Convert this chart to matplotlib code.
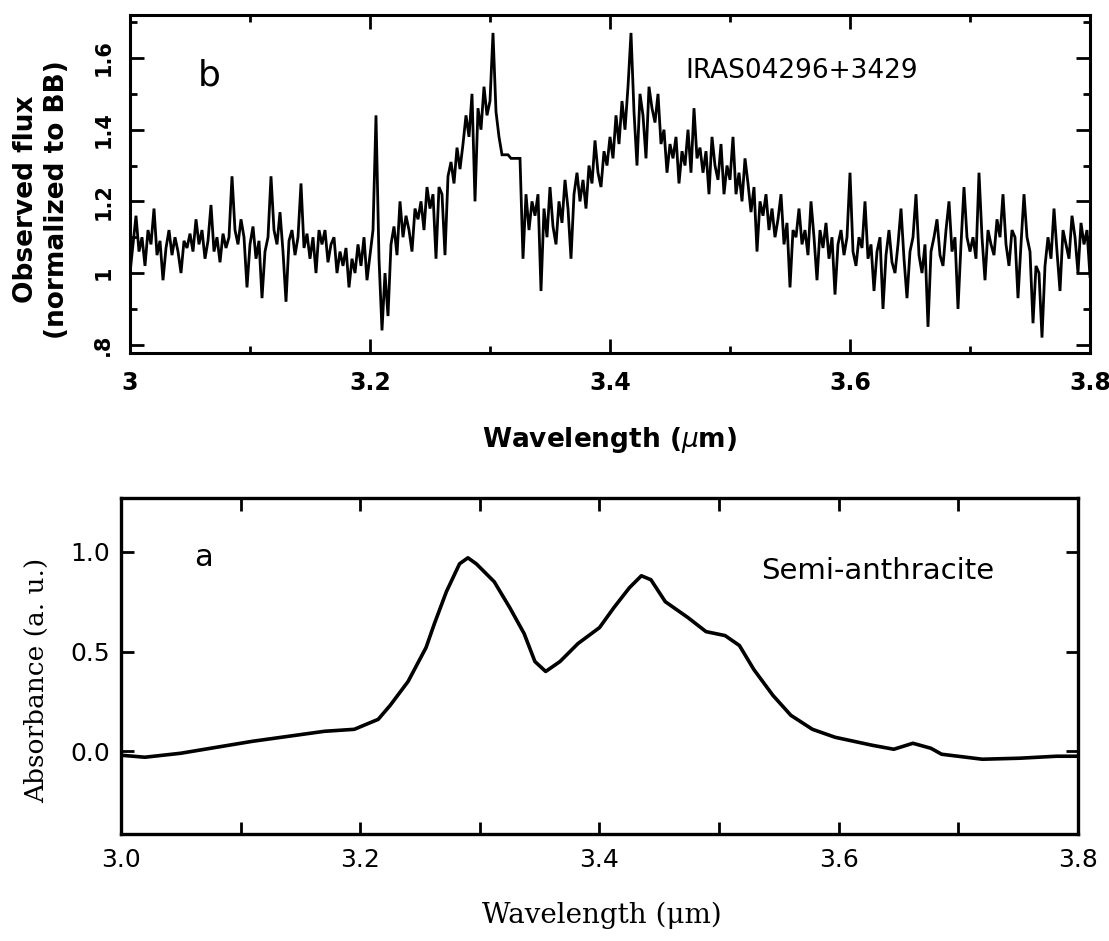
import numpy as np
import matplotlib
matplotlib.use("Agg")
import matplotlib.pyplot as plt
from matplotlib.ticker import MultipleLocator, FixedLocator

# ---------------- data ----------------
# Panel b: observed flux of IRAS04296+3429 (normalized to BB), sampled every 0.0025 um from 3.000
obs_start = 3.000
obs_step = 0.0025
obs_flux = [
    1.00, 1.08, 1.16, 1.06, 1.10, 1.02, 1.12, 1.08,
    1.18, 1.05, 1.09, 0.98, 1.07, 1.12, 1.05, 1.10,
    1.06, 1.00, 1.09, 1.07, 1.11, 1.06, 1.15, 1.08,
    1.12, 1.04, 1.09, 1.19, 1.06, 1.10, 1.03, 1.11,
    1.07, 1.10, 1.27, 1.12, 1.08, 1.15, 1.10, 0.96,
    1.08, 1.13, 1.04, 1.09, 0.93, 1.06, 1.10, 1.27,
    1.12, 1.08, 1.17, 1.06, 0.92, 1.09, 1.12, 1.05,
    1.10, 1.25, 1.07, 1.11, 1.04, 1.10, 1.00, 1.12,
    1.08, 1.12, 1.03, 1.08, 1.10, 1.00, 1.06, 1.02,
    1.07, 0.96, 1.04, 1.00, 1.08, 1.02, 1.10, 0.98,
    1.05, 1.12, 1.44, 1.04, 0.84, 1.00, 0.88, 1.08,
    1.13, 1.05, 1.20, 1.10, 1.16, 1.12, 1.06, 1.18,
    1.15, 1.20, 1.12, 1.24, 1.18, 1.22, 1.04, 1.24,
    1.22, 1.05, 1.27, 1.31, 1.25, 1.35, 1.29, 1.36,
    1.44, 1.38, 1.50, 1.20, 1.46, 1.40, 1.52, 1.44,
    1.48, 1.67, 1.45, 1.38, 1.33, 1.33, 1.33, 1.32,
    1.32, 1.32, 1.32, 1.04, 1.22, 1.12, 1.20, 1.16,
    1.22, 0.95, 1.18, 1.10, 1.24, 1.13, 1.08, 1.20,
    1.14, 1.26, 1.18, 1.04, 1.22, 1.28, 1.20, 1.26,
    1.18, 1.30, 1.25, 1.37, 1.28, 1.24, 1.34, 1.30,
    1.38, 1.32, 1.44, 1.36, 1.48, 1.40, 1.52, 1.67,
    1.45, 1.30, 1.50, 1.44, 1.32, 1.52, 1.46, 1.42,
    1.50, 1.36, 1.40, 1.28, 1.36, 1.32, 1.38, 1.25,
    1.34, 1.30, 1.40, 1.28, 1.46, 1.32, 1.35, 1.28,
    1.34, 1.22, 1.38, 1.30, 1.26, 1.36, 1.22, 1.30,
    1.26, 1.38, 1.22, 1.28, 1.20, 1.32, 1.25, 1.17,
    1.24, 1.06, 1.20, 1.16, 1.22, 1.12, 1.18, 1.10,
    1.15, 1.22, 1.08, 1.14, 0.96, 1.12, 1.10, 1.18,
    1.08, 1.12, 1.05, 1.20, 1.10, 0.98, 1.12, 1.07,
    1.14, 1.04, 1.10, 0.94, 1.08, 1.12, 1.05, 1.10,
    1.28, 1.06, 1.02, 1.10, 1.07, 1.20, 1.04, 1.08,
    0.95, 1.06, 1.10, 0.90, 1.05, 1.12, 1.03, 1.00,
    1.08, 1.18, 1.04, 0.93, 1.06, 1.10, 1.22, 1.05,
    1.00, 1.08, 0.85, 1.06, 1.10, 1.15, 1.05, 1.02,
    1.12, 1.20, 1.06, 1.10, 0.90, 1.08, 1.24, 1.10,
    1.06, 1.10, 1.04, 1.28, 1.10, 0.98, 1.12, 1.08,
    1.05, 1.15, 1.10, 1.22, 1.08, 1.02, 1.12, 1.10,
    0.93, 1.08, 1.22, 1.10, 1.06, 0.86, 1.02, 1.00,
    0.82, 1.02, 1.10, 1.04, 1.18, 1.06, 0.95, 1.12,
    1.08, 1.04, 1.16, 1.10, 1.00, 1.14, 1.08, 1.12,
    0.99,
]
obs_wavelength = [round(obs_start + obs_step * i, 4) for i in range(len(obs_flux))]

# Panel a: semi-anthracite absorbance
abs_wavelength = [3.000, 3.020, 3.050, 3.080, 3.110, 3.140, 3.170, 3.195, 3.215, 3.225,
                  3.240, 3.255, 3.262, 3.272, 3.283, 3.290, 3.297, 3.312, 3.325, 3.337,
                  3.346, 3.355, 3.367, 3.382, 3.400, 3.412, 3.425, 3.435, 3.443, 3.455,
                  3.474, 3.489, 3.505, 3.517, 3.529, 3.545, 3.560, 3.578, 3.597, 3.628,
                  3.646, 3.662, 3.677, 3.686, 3.720, 3.751, 3.782, 3.800]
abs_value = [-0.02, -0.03, -0.01, 0.02, 0.05, 0.075, 0.10, 0.11, 0.16, 0.23,
             0.35, 0.52, 0.64, 0.80, 0.94, 0.97, 0.94, 0.85, 0.72, 0.59,
             0.45, 0.40, 0.45, 0.54, 0.62, 0.72, 0.82, 0.88, 0.86, 0.75,
             0.67, 0.60, 0.58, 0.53, 0.41, 0.28, 0.18, 0.11, 0.07, 0.03,
             0.01, 0.04, 0.015, -0.015, -0.04, -0.035, -0.025, -0.025]

top_xticks = [3.0, 3.2, 3.4, 3.6, 3.8]
top_xticklabels = ["3", "3.2", "3.4", "3.6", "3.8"]
top_yticks = [0.8, 1.0, 1.2, 1.4, 1.6]
top_yticklabels = [".8", "1", "1.2", "1.4", "1.6"]
bot_xticks = [3.0, 3.2, 3.4, 3.6, 3.8]
bot_xticklabels = ["3.0", "3.2", "3.4", "3.6", "3.8"]
bot_yticks = [0.0, 0.5, 1.0]
bot_yticklabels = ["0.0", "0.5", "1.0"]

# ---------------- figure ----------------
W, H = 1109, 941
fig = plt.figure(figsize=(W / 100, H / 100), dpi=100)

def box(l, r, t, b):
    return [l / W, 1 - b / H, (r - l) / W, (b - t) / H]

ax1 = fig.add_axes(box(130, 1090, 15, 353))
ax2 = fig.add_axes(box(121, 1078, 498, 834))

# --- top panel (b) ---
ax1.plot(obs_wavelength, obs_flux, color="black", lw=2.0, solid_joinstyle="miter")
ax1.set_xlim(3.0, 3.8)
ax1.set_ylim(0.777, 1.72)
for s in ax1.spines.values():
    s.set_linewidth(2.2)
ax1.xaxis.set_major_locator(FixedLocator(top_xticks))
ax1.set_xticklabels(top_xticklabels, fontsize=17, fontweight="bold")
ax1.xaxis.set_minor_locator(MultipleLocator(0.1))
ax1.yaxis.set_major_locator(FixedLocator(top_yticks))
ax1.set_yticklabels(top_yticklabels, fontsize=15, fontweight="bold", rotation=90, va="center")
ax1.yaxis.set_minor_locator(MultipleLocator(0.1))
ax1.tick_params(which="major", direction="in", top=True, right=True, length=10, width=2)
ax1.tick_params(which="minor", direction="in", top=True, right=True, length=5, width=2)
ax1.tick_params(axis="x", which="major", pad=13)
ax1.tick_params(axis="y", which="major", pad=12)
ax1.set_xlabel("Wavelength ($\\mu$m)", fontsize=19, fontweight="bold", va="center")
ax1.xaxis.set_label_coords(0.5, -0.257)
ax1.set_ylabel("Observed flux\n(normalized to BB)", fontsize=19, fontweight="bold",
               va="center", ha="center", linespacing=1.25)
ax1.yaxis.set_label_coords(-0.092, 0.455)
ax1.text(0.083, 0.822, "b", transform=ax1.transAxes, fontsize=26,
         ha="center", va="center")
ax1.text(0.700, 0.834, "IRAS04296+3429", transform=ax1.transAxes, fontsize=19,
         ha="center", va="center")

# --- bottom panel (a) ---
ax2.plot(abs_wavelength, abs_value, color="black", lw=2.6)
ax2.set_xlim(3.0, 3.8)
ax2.set_ylim(-0.415, 1.27)
for s in ax2.spines.values():
    s.set_linewidth(2.4)
ax2.xaxis.set_major_locator(FixedLocator(bot_xticks))
ax2.set_xticklabels(bot_xticklabels, fontsize=18)
ax2.xaxis.set_minor_locator(MultipleLocator(0.1))
ax2.yaxis.set_major_locator(FixedLocator(bot_yticks))
ax2.set_yticklabels(bot_yticklabels, fontsize=18)
ax2.tick_params(which="both", direction="in", top=True, right=True, length=9, width=2)
ax2.tick_params(axis="x", which="major", pad=10)
ax2.tick_params(axis="y", which="major", pad=8)
ax2.set_xlabel("Wavelength (\u03bcm)", fontsize=20, family="DejaVu Serif", va="center")
ax2.xaxis.set_label_coords(0.503, -0.241)
ax2.set_ylabel("Absorbance (a. u.)", fontsize=19, family="DejaVu Serif", va="center")
ax2.yaxis.set_label_coords(-0.088, 0.458)
ax2.text(0.086, 0.824, "a", transform=ax2.transAxes, fontsize=22,
         ha="center", va="center")
ax2.text(0.791, 0.783, "Semi-anthracite", transform=ax2.transAxes, fontsize=21,
         ha="center", va="center")

fig.savefig("out.png", dpi=100)
